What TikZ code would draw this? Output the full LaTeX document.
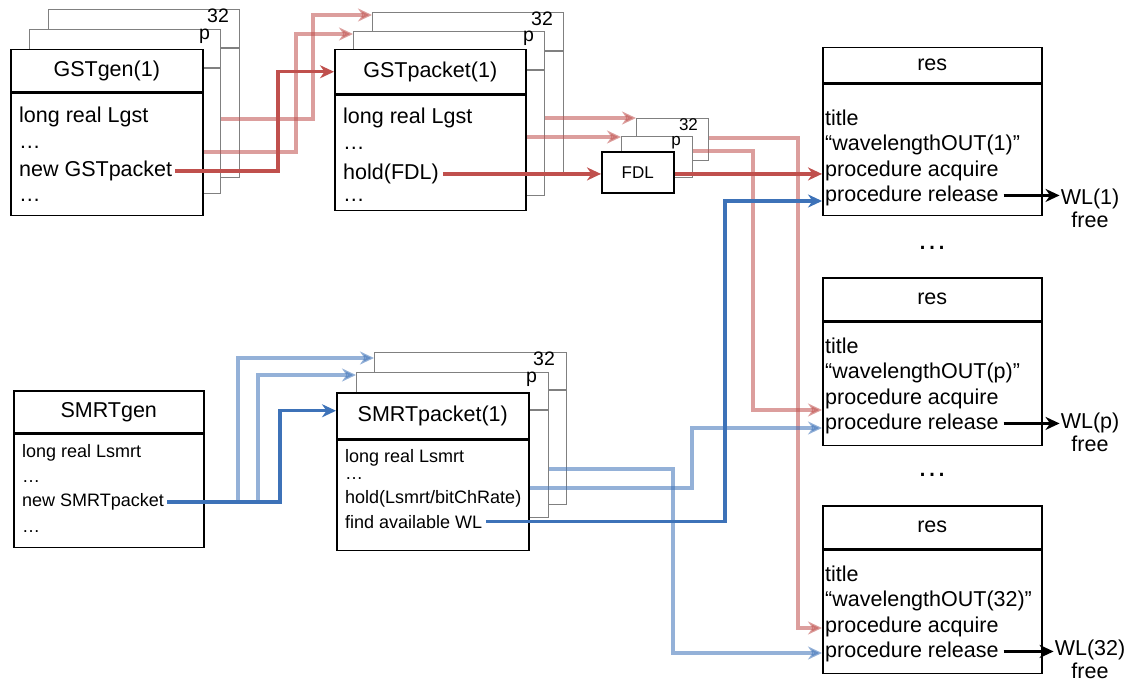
\documentclass[tikz,border=0pt]{standalone}
\usepackage{fontspec}
\setmainfont{Liberation Sans}
\usetikzlibrary{positioning,calc,arrows.meta}

\definecolor{pptred}{HTML}{C0504D}
\definecolor{pptblue}{HTML}{3D72B8}

\newcommand{\objfont}{\fontsize{21.5}{26}\selectfont}
\newcommand{\objsmall}{\fontsize{18}{21}\selectfont}
\newcommand{\tagfont}{\fontsize{19.5}{20}\selectfont}
\newcommand{\fdlfont}{\fontsize{17}{20}\selectfont}

\tikzset{
    clshead/.style={draw, line width=1.5pt, fill=white, anchor=north west, inner sep=0pt, font=\objfont},
    clsbody/.style={draw, line width=1.5pt, fill=white, anchor=north west, inner sep=0pt},
    sheet/.style={draw=gray, line width=1.1pt, fill=white, anchor=north west, inner sep=0pt},
    txt/.style={anchor=base west, inner sep=0pt, font=\objfont},
    stxt/.style={anchor=base west, inner sep=0pt, font=\objsmall},
    tag/.style={anchor=north east, inner sep=0pt, font=\tagfont},
    wl/.style={align=center, inner sep=1pt, font=\fontsize{21.5}{23}\selectfont},
    redpath/.style={pptred, line width=3.3pt, -{Stealth[length=14pt,width=13pt,inset=4.5pt]}},
    redfaint/.style={redpath, opacity=0.55},
    bluepath/.style={pptblue, line width=3.3pt, -{Stealth[length=14pt,width=13pt,inset=4.5pt]}},
    bluefaint/.style={bluepath, opacity=0.55},
    release/.style={black, line width=2.6pt, -{Stealth[length=14pt,width=13pt,inset=4.5pt]}}
}

\begin{document}
\begin{tikzpicture}[x=1pt, y=-1pt]
    \path[use as bounding box, fill=white] (0,0) rectangle (1139,682);

    % GSTgen(1) and its copies
    \foreach \k/\x/\y/\h in {32/48/9/168, p/29/29/164} {
        \node[sheet, minimum width=191pt, minimum height=\h pt] (gen-\k) at (\x,\y) {};
        \draw[gray, line width=1.1pt] ([yshift=-39pt]gen-\k.north west) -- ([yshift=-39pt]gen-\k.north east);
        \node[tag] (gen-\k-tag) at ([xshift=-11pt]gen-\k.north east) {\k};
    }
    \node[clshead, minimum width=192pt, minimum height=42pt] (gen-hd) at (10,49) {GSTgen(1)};
    \node[clsbody, minimum width=192pt, minimum height=122pt] (gen) at (gen-hd.south west) {};
    \node[txt] (gen-a) at (19,122) {long real Lgst};
    \node[txt] (gen-b) at (19,148) {…};
    \node[txt] (gen-new) at (19,176.5) {new GSTpacket};
    \node[txt] (gen-d) at (19,201) {…};

    % GSTpacket(1) and its copies
    \foreach \k/\x/\y/\h in {32/372/12/163, p/353/31/164} {
        \node[sheet, minimum width=191pt, minimum height=\h pt] (pkt-\k) at (\x,\y) {};
        \draw[gray, line width=1.1pt] ([yshift=-39pt]pkt-\k.north west) -- ([yshift=-39pt]pkt-\k.north east);
        \node[tag] (pkt-\k-tag) at ([xshift=-11pt]pkt-\k.north east) {\k};
    }
    \node[clshead, minimum width=191pt, minimum height=44pt] (pkt-hd) at (334,49) {GSTpacket(1)};
    \node[clsbody, minimum width=191pt, minimum height=115pt] (pkt) at (pkt-hd.south west) {};
    \node[txt] (pkt-a) at (343,123.5) {long real Lgst};
    \node[txt] (pkt-b) at (343,149) {…};
    \node[txt] (pkt-hold) at (343,179.5) {hold(FDL)};
    \node[txt] (pkt-d) at (343,201) {…};

    % FDL
    \node[sheet, minimum width=72pt, minimum height=42pt] (fdl-32) at (636,118) {};
    \node[tag, font=\fdlfont] (fdl-32-tag) at ([xshift=-11pt]fdl-32.north east) {32};
    \node[sheet, minimum width=71pt, minimum height=41pt] (fdl-p) at (621,136) {};
    \node[tag, font=\fdlfont] (fdl-p-tag) at ([xshift=-12pt]fdl-p.north east) {p};
    \node[clsbody, minimum width=72pt, minimum height=41pt, font=\fdlfont] (fdl) at (601,151) {FDL};

    % SMRTgen
    \node[clshead, minimum width=190pt, minimum height=42pt] (sg-hd) at (13,390) {SMRTgen};
    \node[clsbody, minimum width=190pt, minimum height=113pt] (sg) at (sg-hd.south west) {};
    \node[stxt] (sg-a) at (22,457.5) {long real Lsmrt};
    \node[stxt] (sg-b) at (22,482) {…};
    \node[stxt] (sg-new) at (22,506.5) {new SMRTpacket};
    \node[stxt] (sg-d) at (22,532) {…};

    % SMRTpacket(1) and its copies
    \foreach \k/\x/\y/\h in {32/374/352/152, p/356/372/145} {
        \node[sheet, minimum width=192pt, minimum height=\h pt] (sp-\k) at (\x,\y) {};
        \draw[gray, line width=1.1pt] ([yshift=-38pt]sp-\k.north west) -- ([yshift=-38pt]sp-\k.north east);
        \node[tag] (sp-\k-tag) at ([xshift=-12pt]sp-\k.north east) {\k};
    }
    \node[clshead, minimum width=192pt, minimum height=46pt] (sp-hd) at (336,392) {SMRTpacket(1)};
    \node[clsbody, minimum width=192pt, minimum height=110pt] (sp) at (sp-hd.south west) {};
    \node[stxt] (sp-a) at (345,462.5) {long real Lsmrt};
    \node[stxt] (sp-b) at (345,479) {…};
    \node[stxt] (sp-hold) at (345,503) {hold(Lsmrt/bitChRate)};
    \node[stxt] (sp-find) at (345,528) {find available WL};

    % res boxes
    \foreach \n/\y/\h/\t/\w in {1/47/35/78/208, p/277/43/76/432, 32/505/43/76/659} {
        \node[clshead, minimum width=219pt, minimum height=\h pt] (r\n-hd) at (822,\y) {res};
        \node[clsbody, minimum width=219pt, minimum height={(166-\h)*1pt}] (r\n) at (r\n-hd.south west) {};
        \node[txt] (r\n-t) at (825,\y+\t) {title};
        \node[txt] (r\n-w) at (825,\y+\t+25) {“wavelengthOUT(\n)”};
        \node[txt] (r\n-acq) at (825,\y+\t+51) {procedure acquire};
        \node[txt] (r\n-rel) at (825,\y+\t+76) {procedure release};
        \node[wl] (wl\n) at (1090,\w) {WL(\n)\\free};
        \draw[release] ([xshift=5pt]r\n-rel.east) -- (r\n-rel.east -| wl\n.west);
    }
    \node[font=\fontsize{30}{30}\selectfont] (gap1) at (932,248) {…};
    \node[font=\fontsize{30}{30}\selectfont] (gap2) at (932,475) {…};

    % GSTgen -> GSTpacket
    \draw[redfaint] (gen-p.east |- 0,119) -- (313,119) |- ([yshift=-3pt]pkt-32.north west);
    \draw[redfaint] (gen.east |- 0,152) -- (296,152) |- ([yshift=-3pt]pkt-p.north west);
    \draw[redpath] ([xshift=3pt]gen-new.east) -- (gen-new.east -| 278,0) |- (pkt-hd.west);

    % GSTpacket -> FDL
    \draw[redfaint] (pkt-p.east |- 0,118) -- (fdl-32.north west);
    \draw[redfaint] (pkt.east |- 0,137) -- (fdl-p.west |- 0,137);
    \draw[redpath] ([xshift=4pt]pkt-hold.east) -- (pkt-hold.east -| fdl.west);

    % FDL -> res
    \draw[redpath] (pkt-hold.east -| fdl.east) -- (pkt-hold.east -| r1.west);
    \draw[redfaint] (fdl-p.east |- 0,151) -- (753,151) |- (rp.west |- 0,410);
    \draw[redfaint] (fdl-32.east |- 0,138) -- (798,138) |- (r32.west |- 0,628);

    % SMRTgen -> SMRTpacket
    \draw[bluefaint] ([xshift=3pt]sg-new.east) -- (sg-new.east -| 238,0) |- ([yshift=-6pt]sp-32.north west);
    \draw[bluefaint] ([xshift=3pt]sg-new.east) -- (sg-new.east -| 258,0) |- ([yshift=-3pt]sp-p.north west);
    \draw[bluepath] ([xshift=3pt]sg-new.east) -- (sg-new.east -| 280,0) |- ([yshift=5pt]sp-hd.west);

    % SMRTpacket -> res
    \draw[bluefaint] (sp-p.east |- 0,469) -- (673,469) |- (r32.west |- 0,653);
    \draw[bluefaint] (sp.east |- 0,488) -- (692,488) |- (rp.west |- 0,428);
    \draw[bluepath] ([xshift=4pt]sp-find.east) -- (sp-find.east -| 725,0) |- (r1.west |- 0,201);
\end{tikzpicture}
\end{document}
